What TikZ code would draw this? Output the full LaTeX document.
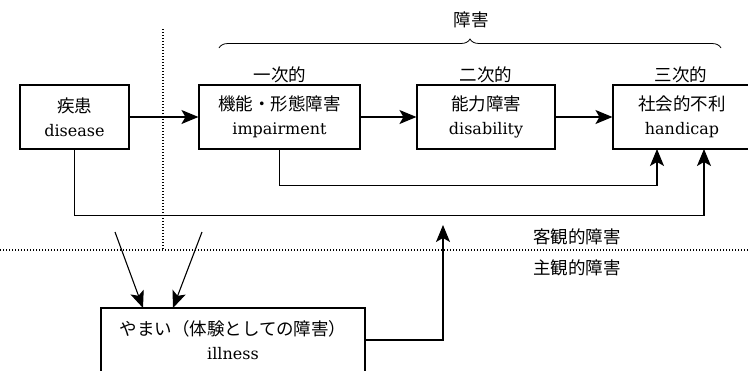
\documentclass[tikz,border=0pt]{standalone}
\usepackage{fontspec}
\setmainfont{DejaVu Serif}
\newfontfamily\cjk{Noto Sans CJK JP}
\usetikzlibrary{arrows.meta,decorations.pathreplacing}
\newcommand\jp[1]{{\cjk\fontsize{17.5}{24}\selectfont #1}}
\begin{document}
\begin{tikzpicture}[x=1pt,y=-1pt,line width=1.1pt,
  box/.style={draw,minimum height=64pt,align=center,inner sep=0pt,
    font=\fontsize{16}{24}\selectfont},
  arr/.style={-{Stealth[length=17pt,width=14pt,inset=4pt]}},
  dotline/.style={line width=1.4pt,dash pattern=on 1.4pt off 1.6pt},
  lab/.style={font=\cjk\fontsize{17.5}{20}\selectfont,inner sep=0pt}]
\useasboundingbox (0,0) rectangle (748,370);

% boxes
\node[box,minimum width=109pt] (dis) at (74.5,117) {\jp{疾患}\\disease};
\node[box,minimum width=161pt] (imp) at (279.5,117) {\jp{機能・形態障害}\\impairment};
\node[box,minimum width=138pt] (dsb) at (486,117) {\jp{能力障害}\\disability};
\node[box,minimum width=138pt] (hc) at (682,117) {\jp{社会的不利}\\handicap};
\node[box,minimum width=264pt] (ill) at (233,340) {\jp{やまい（体験としての障害）}\\illness};

% labels
\node[lab] (lz) at (471,20) {障害};
\node[lab] (l1) at (280,75) {一次的};
\node[lab] (l2) at (486,75) {二次的};
\node[lab] (l3) at (681,75) {三次的};
\node[lab] (lo) at (577,237) {客観的障害};
\node[lab] (ls) at (577,268) {主観的障害};

% brace
\coordinate (bl) at (219,48);
\coordinate (br) at (721,48);
\draw[line width=0.8pt,decorate,decoration={brace,amplitude=9pt}] (bl) -- (br);

% dotted separators
\coordinate (hL) at (0,250);
\coordinate (hR) at (748,250);
\coordinate (vT) at (163,29);
\coordinate (vB) at (163,249);
\draw[dotline] (hL) -- (hR);
\draw[dotline] (vT) -- (vB);

% connectors
\coordinate (hcA) at (657,149);
\coordinate (hcB) at (704,149);
\draw[arr] (dis.east) -- (imp.west);
\draw[arr] (imp.east) -- (dsb.west);
\draw[arr] (dsb.east) -- (hc.west);
\draw[arr] (imp.south) -- ++(0,36) -| (hcA);
\draw[arr] (dis.south) -- ++(0,66) -| (hcB);

\coordinate (up) at (443,225);
\draw[arr] (ill.east) -| (up);

\coordinate (s1) at (115,232);
\coordinate (s2) at (202,232);
\coordinate (t1) at (143,308);
\coordinate (t2) at (173,308);
\draw[arr] (s1) -- (t1);
\draw[arr] (s2) -- (t2);
\end{tikzpicture}
\end{document}
